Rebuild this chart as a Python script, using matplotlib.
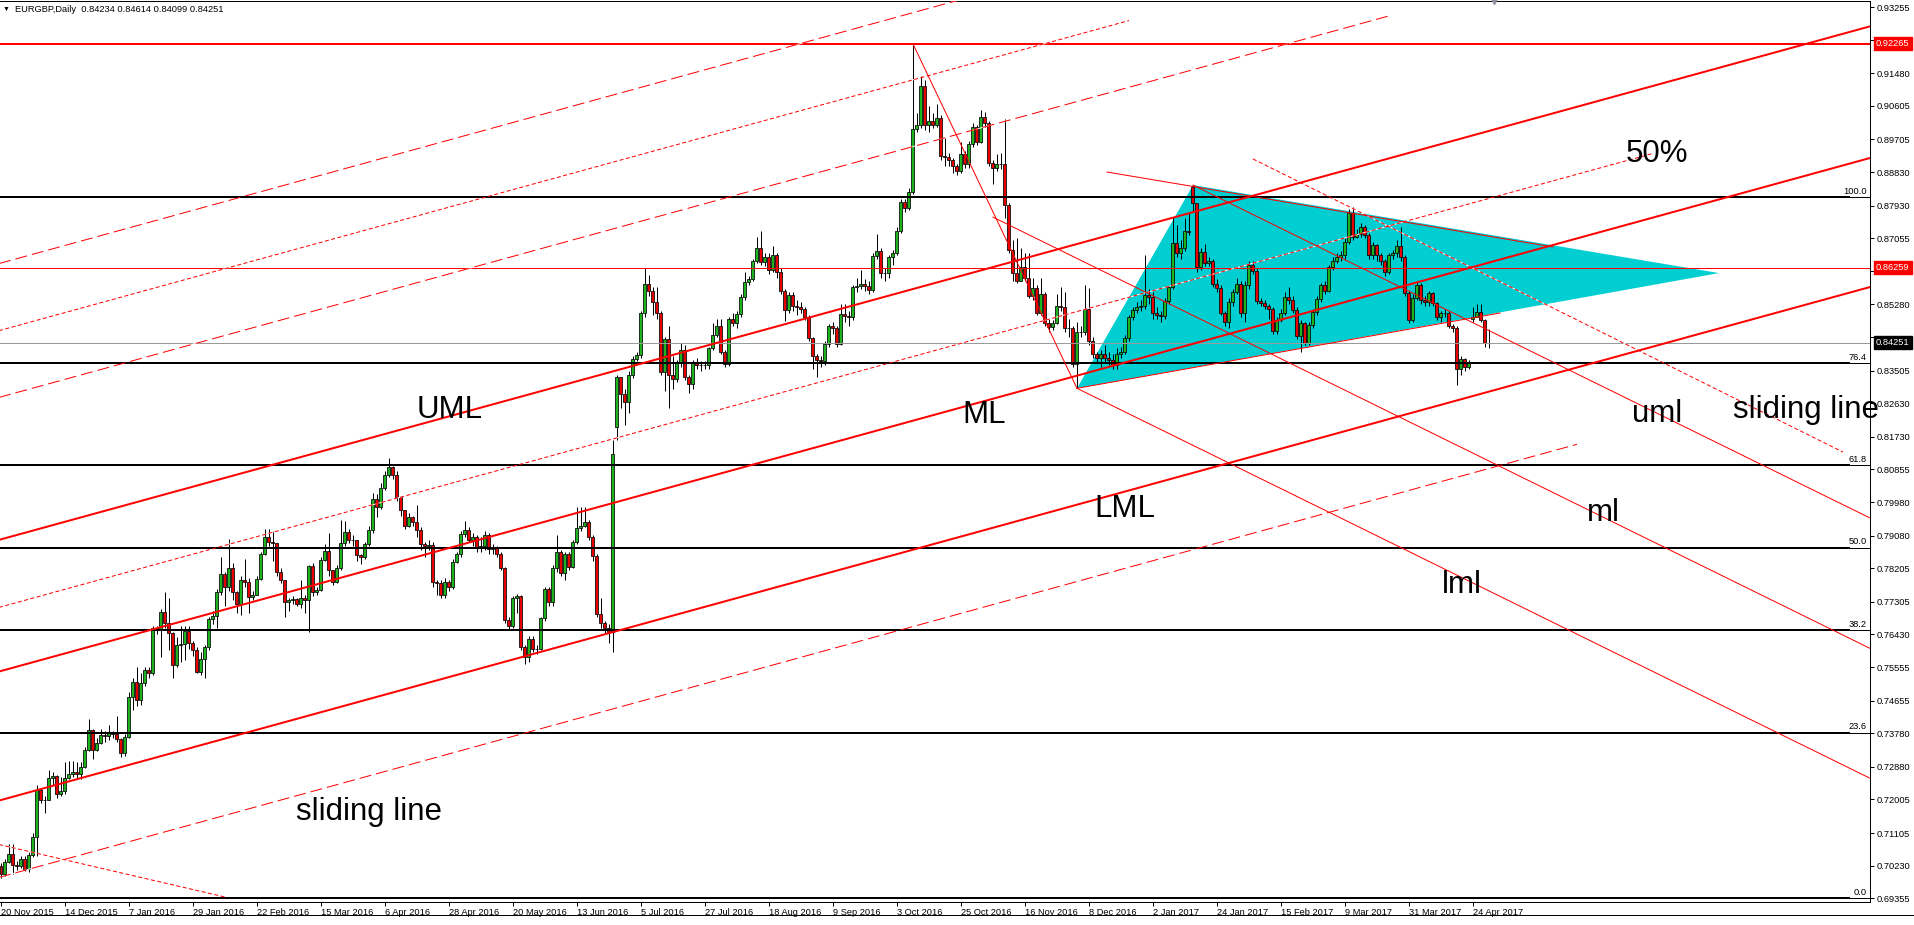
import numpy as np
import matplotlib.pyplot as plt

# ---------------- data (prices x 10000) ----------------
closes = [
    7002, 7033, 7055, 7024, 7023, 7042, 7015, 7051, 7100, 7225,
    7199, 7200, 7257, 7263, 7216, 7222, 7259, 7270, 7275, 7268,
    7288, 7333, 7388, 7333, 7351, 7373, 7370, 7378, 7377, 7362,
    7324, 7367, 7476, 7516, 7467, 7513, 7548, 7539, 7659, 7656,
    7702, 7673, 7646, 7561, 7615, 7617, 7652, 7619, 7601, 7543,
    7577, 7610, 7684, 7692, 7756, 7804, 7771, 7820, 7756, 7725,
    7789, 7785, 7744, 7750, 7793, 7859, 7905, 7892, 7889, 7811,
    7789, 7731, 7735, 7737, 7725, 7742, 7735, 7826, 7758, 7762,
    7843, 7867, 7816, 7784, 7820, 7887, 7918, 7896, 7895, 7856,
    7851, 7885, 7923, 8006, 7986, 8037, 8070, 8091, 8070, 8012,
    7977, 7934, 7959, 7945, 7923, 7885, 7881, 7883, 7784, 7782,
    7749, 7784, 7771, 7838, 7859, 7912, 7923, 7896, 7903, 7874,
    7880, 7910, 7871, 7874, 7860, 7820, 7682, 7665, 7740, 7746,
    7610, 7583, 7632, 7603, 7605, 7686, 7764, 7731, 7820, 7863,
    7808, 7858, 7825, 7890, 7929, 7935, 7944, 7905, 7853, 7697,
    7673, 7659, 7650, 8128, 8334, 8289, 8267, 8340, 8381, 8392,
    8504, 8582, 8565, 8535, 8506, 8347, 8434, 8340, 8328, 8374,
    8405, 8334, 8314, 8374, 8365, 8365, 8365, 8410, 8446, 8470,
    8401, 8367, 8490, 8479, 8502, 8547, 8589, 8595, 8644, 8678,
    8642, 8656, 8620, 8660, 8616, 8565, 8513, 8553, 8524, 8522,
    8517, 8493, 8437, 8390, 8380, 8375, 8423, 8470, 8464, 8422,
    8501, 8497, 8494, 8574, 8577, 8584, 8577, 8566, 8658, 8671,
    8613, 8613, 8654, 8665, 8726, 8802, 8786, 8830, 8998, 9009,
    9113, 9009, 9020, 9010, 9027, 8926, 8922, 8915, 8899, 8886,
    8931, 8904, 8958, 9004, 8964, 9030, 9015, 8908, 8895, 8904,
    8904, 8794, 8675, 8611, 8591, 8627, 8598, 8551, 8571, 8506,
    8556, 8477, 8468, 8479, 8524, 8520, 8464, 8465, 8367, 8453,
    8453, 8515, 8431, 8395, 8385, 8395, 8383, 8380, 8365, 8395,
    8401, 8437, 8493, 8513, 8522, 8524, 8553, 8549, 8505, 8500,
    8498, 8538, 8574, 8694, 8667, 8680, 8726, 8723, 8799, 8627,
    8669, 8638, 8644, 8584, 8571, 8506, 8482, 8535, 8562, 8583,
    8504, 8580, 8635, 8618, 8538, 8533, 8524, 8517, 8458, 8486,
    8504, 8549, 8540, 8513, 8443, 8477, 8425, 8473, 8508, 8542,
    8580, 8565, 8627, 8645, 8656, 8660, 8696, 8772, 8710, 8717,
    8736, 8714, 8660, 8687, 8660, 8645, 8616, 8660, 8665, 8685,
    8654, 8558, 8486, 8546, 8580, 8540, 8535, 8558, 8531, 8493,
    8504, 8506, 8470, 8466, 8354, 8381, 8361, 8372, 8495, 8508,
    8486, 8424, 8425,
]
highs = [
    7030, 7040, 7081, 7080, 7035, 7050, 7048, 7060, 7110, 7240,
    7230, 7210, 7279, 7275, 7265, 7260, 7300, 7305, 7305, 7300,
    7300, 7340, 7415, 7390, 7365, 7390, 7385, 7400, 7385, 7424,
    7365, 7375, 7490, 7525, 7556, 7540, 7555, 7555, 7665, 7665,
    7710, 7756, 7740, 7650, 7635, 7665, 7665, 7665, 7625, 7610,
    7595, 7615, 7690, 7705, 7765, 7851, 7810, 7898, 7835, 7760,
    7800, 7844, 7795, 7760, 7800, 7865, 7925, 7925, 7920, 7880,
    7820, 7790, 7740, 7745, 7740, 7790, 7750, 7830, 7835, 7770,
    7850, 7885, 7914, 7810, 7830, 7950, 7947, 7925, 7910, 7895,
    7860, 7890, 7935, 8021, 8020, 8050, 8080, 8115, 8095, 8080,
    8010, 7975, 7970, 7960, 7990, 7930, 7890, 7895, 7890, 7790,
    7790, 7795, 7790, 7845, 7865, 7920, 7947, 7930, 7915, 7910,
    7905, 7920, 7915, 7885, 7880, 7865, 7825, 7690, 7745, 7752,
    7750, 7615, 7640, 7640, 7615, 7690, 7770, 7770, 7830, 7910,
    7870, 7865, 7865, 7895, 7985, 7985, 7985, 7950, 7910, 7860,
    7740, 7680, 7670, 8165, 8340, 8330, 8300, 8350, 8390, 8401,
    8510, 8625, 8608, 8575, 8575, 8510, 8440, 8470, 8390, 8380,
    8425, 8420, 8340, 8380, 8385, 8375, 8375, 8415, 8477, 8490,
    8490, 8405, 8495, 8505, 8510, 8555, 8615, 8605, 8650, 8710,
    8726, 8665, 8665, 8685, 8665, 8625, 8570, 8560, 8560, 8540,
    8535, 8520, 8500, 8440, 8395, 8390, 8430, 8475, 8480, 8470,
    8530, 8530, 8510, 8580, 8600, 8621, 8595, 8590, 8665, 8718,
    8680, 8625, 8660, 8675, 8735, 8810, 8810, 8840, 9226, 9040,
    9140, 9130, 9060, 9040, 9065, 9035, 8975, 8935, 8920, 8905,
    8964, 8940, 8965, 9015, 9010, 9049, 9045, 9020, 8915, 8930,
    8935, 9024, 8800, 8700, 8705, 8680, 8665, 8665, 8600, 8580,
    8600, 8560, 8490, 8485, 8555, 8575, 8560, 8490, 8470, 8480,
    8470, 8580, 8571, 8440, 8400, 8405, 8420, 8400, 8395, 8410,
    8415, 8445, 8500, 8520, 8535, 8540, 8660, 8570, 8560, 8520,
    8510, 8545, 8580, 8762, 8740, 8700, 8760, 8775, 8848, 8800,
    8680, 8690, 8655, 8650, 8595, 8580, 8510, 8545, 8570, 8600,
    8590, 8590, 8645, 8645, 8625, 8545, 8540, 8530, 8520, 8495,
    8515, 8560, 8575, 8550, 8520, 8485, 8480, 8480, 8515, 8550,
    8585, 8590, 8635, 8655, 8665, 8670, 8705, 8785, 8790, 8730,
    8745, 8740, 8720, 8695, 8690, 8665, 8650, 8665, 8675, 8700,
    8735, 8660, 8565, 8555, 8590, 8585, 8550, 8565, 8560, 8535,
    8510, 8515, 8510, 8475, 8470, 8390, 8385, 8380, 8520, 8530,
    8530, 8490, 8461,
]
lows = [
    6990, 6995, 7030, 7000, 7012, 7018, 7008, 7006, 7045, 7050,
    7190, 7165, 7200, 7240, 7205, 7210, 7215, 7255, 7262, 7255,
    7255, 7285, 7330, 7310, 7330, 7350, 7355, 7360, 7365, 7355,
    7315, 7318, 7365, 7440, 7450, 7455, 7505, 7525, 7535, 7645,
    7583, 7660, 7600, 7525, 7555, 7570, 7575, 7605, 7585, 7540,
    7535, 7525, 7600, 7670, 7659, 7750, 7720, 7760, 7735, 7700,
    7695, 7770, 7700, 7735, 7775, 7790, 7855, 7880, 7840, 7800,
    7780, 7690, 7705, 7725, 7720, 7715, 7700, 7650, 7745, 7750,
    7760, 7840, 7800, 7775, 7780, 7815, 7880, 7888, 7880, 7840,
    7832, 7845, 7880, 7915, 7959, 7980, 8030, 8065, 8060, 8000,
    7960, 7925, 7930, 7935, 7905, 7870, 7850, 7870, 7770, 7750,
    7742, 7740, 7760, 7765, 7835, 7850, 7905, 7890, 7880, 7865,
    7865, 7870, 7860, 7860, 7850, 7815, 7675, 7655, 7660, 7700,
    7600, 7565, 7570, 7595, 7590, 7600, 7680, 7720, 7720, 7810,
    7800, 7790, 7815, 7820, 7885, 7920, 7930, 7895, 7840, 7690,
    7660, 7645, 7619, 7597, 8164, 8250, 8205, 8238, 8330, 8375,
    8385, 8495, 8550, 8500, 8490, 8340, 8297, 8249, 8300, 8320,
    8360, 8325, 8290, 8300, 8355, 8350, 8355, 8355, 8405, 8440,
    8395, 8360, 8362, 8470, 8465, 8495, 8540, 8580, 8590, 8640,
    8635, 8630, 8610, 8615, 8600, 8555, 8484, 8505, 8510, 8500,
    8505, 8485, 8430, 8355, 8334, 8360, 8365, 8415, 8450, 8415,
    8420, 8480, 8470, 8485, 8560, 8570, 8565, 8555, 8560, 8650,
    8600, 8590, 8600, 8635, 8660, 8720, 8775, 8780, 8825, 8990,
    9000, 8995, 8990, 9000, 9005, 8915, 8900, 8900, 8880, 8875,
    8880, 8895, 8895, 8950, 8955, 8960, 9005, 8900, 8850, 8885,
    8890, 8760, 8665, 8590, 8585, 8590, 8590, 8545, 8540, 8500,
    8500, 8470, 8455, 8460, 8475, 8510, 8455, 8440, 8360, 8303,
    8440, 8445, 8420, 8385, 8370, 8360, 8370, 8365, 8355, 8355,
    8385, 8395, 8430, 8485, 8505, 8510, 8515, 8530, 8490, 8490,
    8480, 8490, 8530, 8570, 8655, 8650, 8670, 8714, 8775, 8615,
    8620, 8630, 8630, 8575, 8560, 8500, 8470, 8465, 8525, 8555,
    8495, 8480, 8570, 8610, 8530, 8525, 8515, 8490, 8450, 8450,
    8480, 8500, 8530, 8505, 8435, 8401, 8418, 8420, 8465, 8500,
    8535, 8555, 8560, 8620, 8640, 8645, 8650, 8690, 8700, 8705,
    8710, 8705, 8650, 8650, 8645, 8635, 8605, 8610, 8650, 8655,
    8645, 8550, 8478, 8480, 8540, 8530, 8525, 8525, 8525, 8485,
    8480, 8495, 8465, 8455, 8312, 8340, 8350, 8355, 8480, 8495,
    8480, 8415, 8410,
]
# bars whose open differs from the previous close (weekend gaps)
gap_opens = {0: 7022, 154: 8200, 298: 8844, 368: 8490}
last_ohlc = (0.84234, 0.84614, 0.84099, 0.84251)

date_ticks = [0, 16, 32, 48, 64, 80, 96, 112, 128, 144, 160, 176, 192, 208,
              224, 240, 256, 272, 288, 304, 320, 336, 352, 368]
date_labels = ['20 Nov 2015', '14 Dec 2015', '7 Jan 2016', '29 Jan 2016', '22 Feb 2016',
               '15 Mar 2016', '6 Apr 2016', '28 Apr 2016', '20 May 2016', '13 Jun 2016',
               '5 Jul 2016', '27 Jul 2016', '18 Aug 2016', '9 Sep 2016', '3 Oct 2016',
               '25 Oct 2016', '16 Nov 2016', '8 Dec 2016', '2 Jan 2017', '24 Jan 2017',
               '15 Feb 2017', '9 Mar 2017', '31 Mar 2017', '24 Apr 2017']
price_ticks = [0.93255, 0.92380, 0.91480, 0.90605, 0.89705, 0.88830, 0.87930, 0.87055,
               0.86180, 0.85280, 0.84405, 0.83505, 0.82630, 0.81730, 0.80855, 0.79980,
               0.79080, 0.78205, 0.77305, 0.76430, 0.75555, 0.74655, 0.73780, 0.72880,
               0.72005, 0.71105, 0.70230, 0.69355]
# tick labels covered by the price boxes
hidden_ticks = [0.92380, 0.86180, 0.84405]

fib_levels = [0.6937, 0.7380, 0.7655, 0.7876, 0.8098, 0.8371, 0.8815]
fib_names = ['0.0', '23.6', '38.2', '50.0', '61.8', '76.4', '100.0']
red_levels = [0.92265, 0.86259]

# trend lines: ((bar, price), (bar, price))
thick_lines = [((-1, 0.78951), (468, 0.92758)),
               ((-1, 0.75421), (468, 0.89228)),
               ((-1, 0.71961), (468, 0.85768))]
dash_lines = [((-1, 0.86361), (240, 0.93456)),
              ((-1, 0.82771), (347, 0.93016)),
              ((-1, 0.69901), (394, 0.81529))]
dot_lines = [((-1, 0.84561), (282, 0.92892)),
             ((-1, 0.77141), (413, 0.89329)),
             ((313, 0.8918), (460.5, 0.8132)),
             ((-1, 0.7081), (56, 0.6939))]
thin_lines = [((228, 0.92265), (269, 0.8303)),
              ((248, 0.8762), (468, 0.76017)),
              ((298, 0.8848), (468, 0.79514)),
              ((269, 0.8303), (468, 0.72535)),
              ((276.5, 0.8883), (388, 0.8682)),
              ((269, 0.8303), (374.75, 0.8505))]
triangle = [(269, 0.8303), (298, 0.8848), (429.5, 0.8612)]

labels = [(104, 0.82234, 'UML'), (240.25, 0.82112, 'ML'), (273.25, 0.79580, 'LML'),
          (406.25, 0.89099, '50%'), (407.75, 0.82127, 'uml'), (433, 0.82234, 'sliding line'),
          (396.5, 0.79480, 'ml'), (360.25, 0.77541, 'lml'), (73.7, 0.71454, 'sliding line')]

# ---------------- figure ----------------
FONT = ['Liberation Sans', 'DejaVu Sans']
plt.rcParams['font.family'] = FONT
W, H = 1915, 925
fig = plt.figure(figsize=(W / 100, H / 100), dpi=100)
ax = fig.add_axes([0, 23 / H, 1870 / W, 901 / H])
ax.set_xlim(-0.25, 467.25)
ax.set_ylim(0.69256, 0.934159)

RED = '#ff0000'
px = 0.72  # one pixel in points

# cyan triangle (background object)
ax.fill([p[0] for p in triangle], [p[1] for p in triangle], color='#00ced1', lw=0, zorder=1)

# candles
c = np.array(closes, dtype=float) / 10000
o = np.r_[c[0], c[:-1]]
for k, v in gap_opens.items():
    o[k] = v / 10000
h = np.array(highs, dtype=float) / 10000
l = np.array(lows, dtype=float) / 10000
o[-1], h[-1], l[-1], c[-1] = last_ohlc
h = np.maximum(h, np.maximum(o, c))
l = np.minimum(l, np.minimum(o, c))
x = np.arange(len(c))
cols = np.where(c > o, '#1db31d', np.where(c < o, '#e80000', 'black'))
ax.vlines(x, l, h, color='black', lw=px, zorder=2)
ax.bar(x, np.abs(c - o), width=0.75, bottom=np.minimum(o, c), color=cols,
       edgecolor='black', linewidth=0.55, zorder=3)

# horizontal lines
ax.axhline(red_levels[0], color=RED, lw=2 * px, zorder=4)
ax.axhline(red_levels[1], color=RED, lw=px, zorder=4)
ax.axhline(last_ohlc[3], color='#9a9a9a', lw=px, zorder=4)
for lev, name in zip(fib_levels, fib_names):
    ax.plot([-1, 462.2], [lev, lev], color='black', lw=2 * px, zorder=5, solid_capstyle='butt')
    ax.plot([462.2, 468], [lev, lev], color='black', lw=px, zorder=5)
    ax.text(466.4, lev + 0.0003, name, ha='right', va='bottom', fontsize=6.7, zorder=6)

# pitchfork lines
for (x0, y0), (x1, y1) in thick_lines:
    ax.plot([x0, x1], [y0, y1], color=RED, lw=2 * px, zorder=5)
for (x0, y0), (x1, y1) in thin_lines:
    ax.plot([x0, x1], [y0, y1], color=RED, lw=px, zorder=5)
for (x0, y0), (x1, y1) in dash_lines:
    ax.plot([x0, x1], [y0, y1], color='white', lw=px, zorder=4.9)
    ax.plot([x0, x1], [y0, y1], color=RED, lw=px, dashes=(12, 5), zorder=5)
for (x0, y0), (x1, y1) in dot_lines:
    ax.plot([x0, x1], [y0, y1], color='white', lw=px, zorder=4.9)
    ax.plot([x0, x1], [y0, y1], color=RED, lw=px, dashes=(4, 2.5), zorder=5)

for bx, py, txt in labels:
    ax.text(bx, py, txt, fontsize=22.5, ha='left', va='baseline', color='black',
            zorder=7, clip_on=False)

# axes styling
ax.spines['left'].set_visible(False)
for s in ['top', 'right', 'bottom']:
    ax.spines[s].set_linewidth(px)
    ax.spines[s].set_color('black')
ax.yaxis.tick_right()
ax.set_yticks(price_ticks)
ax.set_yticklabels(['' if v in hidden_ticks else '%.5f' % v for v in price_ticks])
ax.tick_params(axis='y', direction='out', length=3, width=px, pad=1.8, labelsize=6.7)
ax.set_xticks(date_ticks)
ax.set_xticklabels(date_labels, ha='left')
ax.tick_params(axis='x', direction='out', length=3, width=px, pad=1.5, labelsize=6.7)

# price boxes on the axis
yt = ax.get_yaxis_transform()
for val, fc in [(red_levels[0], RED), (red_levels[1], RED), (last_ohlc[3], 'black')]:
    ax.text(1.0032, val, '%.5f' % val, transform=yt, ha='left', va='center', fontsize=6.7,
            color='white', zorder=10, clip_on=False,
            bbox=dict(boxstyle='square,pad=0.22', fc=fc, ec=fc))

# chart-shift marker
ax.plot([373.25], [0.93416], marker='v', ms=5, color='#8a8f99', clip_on=False, zorder=8)

# header
fig.text(3 / W, 1 - 9 / H, '\u25bc', fontsize=5, va='center', ha='left')
fig.text(15 / W, 1 - 9 / H, 'EURGBP,Daily  %.5f %.5f %.5f %.5f' % last_ohlc,
         fontsize=6.7, va='center', ha='left')
fig.add_artist(plt.Line2D([0, 1], [1 - 915 / H, 1 - 915 / H], color='black', lw=px))

fig.savefig('out.png', dpi=100)
